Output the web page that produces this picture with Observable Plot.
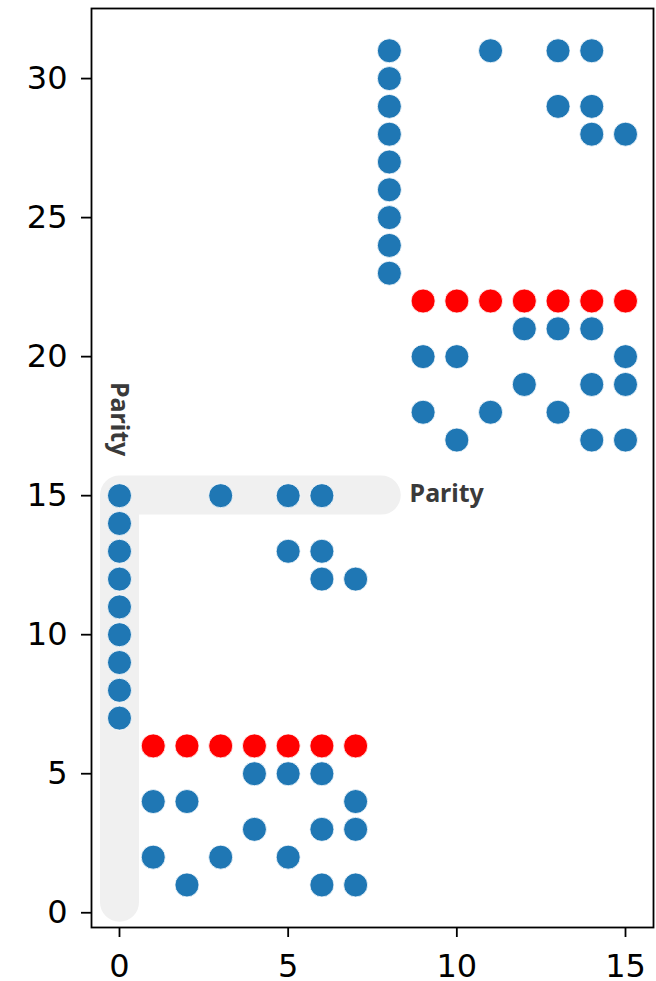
<!DOCTYPE html>
<html>
<head>
<meta charset="utf-8">
<script src="https://cdn.jsdelivr.net/npm/d3@7"></script>
<script src="https://cdn.jsdelivr.net/npm/@observablehq/plot@0.6"></script>
<style>
  html, body { margin: 0; padding: 0; background: #fff; overflow: hidden; }
</style>
</head>
<body>
<div id="chart"></div>
<script>
// Blue points (x, y)
const blueX = [
  0,0,0,0,0,0,0,0,0,
  3,5,6, 5,6, 6,7,
  4,5,6, 1,2,7, 4,6,7, 1,3,5, 2,6,7,
  8,8,8,8,8,8,8,8,8,
  11,13,14, 13,14, 14,15,
  12,13,14, 9,10,15, 12,14,15, 9,11,13, 10,14,15
];
const blueY = [
  7,8,9,10,11,12,13,14,15,
  15,15,15, 13,13, 12,12,
  5,5,5, 4,4,4, 3,3,3, 2,2,2, 1,1,1,
  23,24,25,26,27,28,29,30,31,
  31,31,31, 29,29, 28,28,
  21,21,21, 20,20,20, 19,19,19, 18,18,18, 17,17,17
];
// Red points (parity rows)
const redX = [1,2,3,4,5,6,7, 9,10,11,12,13,14,15];
const redY = [6,6,6,6,6,6,6, 22,22,22,22,22,22,22];
// Highlight path (L shape)
const hlX = [0, 0, 7.76];
const hlY = [0.38, 15.02, 15.02];
// Labels
const labelText = ["Parity", "Parity"];
const labelX = [8.6, 0];
const labelY = [15.05, 17.75];
const labelRotate = [0, 90];
const xTicks = [0, 5, 10, 15];
const yTicks = [0, 5, 10, 15, 20, 25, 30];

const blue = blueX.map((x, i) => ({x, y: blueY[i]}));
const red = redX.map((x, i) => ({x, y: redY[i]}));
const hl = hlX.map((x, i) => ({x, y: hlY[i]}));
const labels = labelText.map((t, i) => ({t, x: labelX[i], y: labelY[i], r: labelRotate[i]}));

const chart = Plot.plot({
  width: 656,
  height: 981,
  marginLeft: 91,
  marginRight: 3,
  marginTop: 8,
  marginBottom: 54,
  style: {fontFamily: "DejaVu Sans", color: "black", background: "white"},
  x: {domain: [-0.83, 15.83]},
  y: {domain: [-0.53, 32.52]},
  marks: [
    Plot.line(hl, {x: "x", y: "y", stroke: "#f0f0f0", strokeWidth: 39, strokeLinecap: "round", strokeLinejoin: "round"}),
    Plot.dot(blue, {x: "x", y: "y", r: 12, fill: "#1f77b4", stroke: "white", strokeWidth: 0.8}),
    Plot.dot(red, {x: "x", y: "y", r: 12, fill: "#ff0000", stroke: "white", strokeWidth: 0.8}),
    Plot.text(labels.filter(d => d.r === 0), {x: "x", y: "y", text: "t", textAnchor: "start", lineAnchor: "middle", fontSize: 25, fontWeight: "bold", fontFamily: "Noto Sans", fill: "#3a3a3a"}),
    Plot.text(labels.filter(d => d.r !== 0), {x: "x", y: "y", text: "t", rotate: 90, textAnchor: "middle", lineAnchor: "middle", fontSize: 25, fontWeight: "bold", fontFamily: "Noto Sans", fill: "#3a3a3a"}),
    Plot.axisX({ticks: xTicks, tickSize: 10, tickPadding: 17, fontSize: 32, strokeWidth: 1.8, label: null, tickFormat: d3.format("d")}),
    Plot.axisY({ticks: yTicks, tickSize: 10, tickPadding: 14, fontSize: 32, strokeWidth: 1.8, label: null, tickFormat: d3.format("d")}),
    Plot.frame({stroke: "black", strokeWidth: 1.8})
  ]
});
document.getElementById("chart").appendChild(chart);
</script>
</body>
</html>
